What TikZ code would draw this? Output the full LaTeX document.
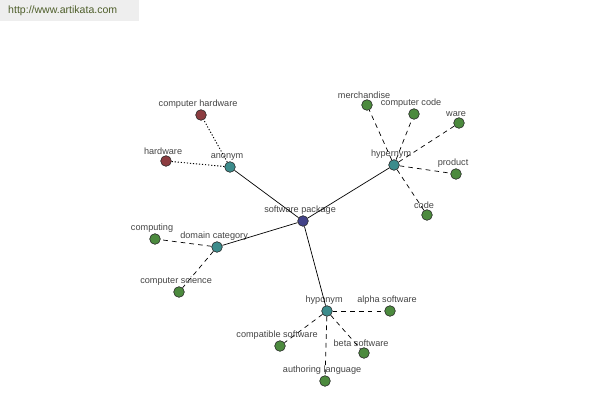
\documentclass[tikz,border=0pt]{standalone}
\usepackage{tikz}
\usepackage{xcolor}
\usepackage{fontspec}
\setmainfont{Liberation Sans}

\begin{document}
\begin{tikzpicture}[x=0.03cm,y=-0.03cm,
  wnode/.style={circle,draw=black!85,line width=0.5pt,minimum size=0.32cm,inner sep=0pt},
  wlabel/.style={font=\fontsize{7.8}{8}\selectfont,text=labelgray,inner sep=0pt,xshift=-2.5pt},
  dashline/.style={dash pattern=on 4pt off 3.5pt,line width=0.6pt},
  dotline/.style={dash pattern=on 1pt off 1.6pt,line width=0.8pt},
  solidline/.style={line width=0.6pt}]
\definecolor{navy}{HTML}{424288}
\definecolor{teal}{HTML}{3C8C8C}
\definecolor{leaf}{HTML}{4C8A3E}
\definecolor{wine}{HTML}{8C3C40}
\definecolor{labelgray}{HTML}{444444}
\definecolor{headgray}{HTML}{EEEEEE}
\definecolor{headgreen}{HTML}{4E5E2A}
\useasboundingbox (0,0) rectangle (600,400);
\fill[headgray] (0,0) rectangle (139,21);
\node[text=headgreen,font=\fontsize{9}{10}\selectfont,anchor=west,inner sep=0pt] (site) at (8,11) {http://www.artikata.com};
  \foreach \nm/\crlr/\x/\y/\txt in {sp/navy/303/221/software package,
    ant/teal/230/167/anonym,chw/wine/201/115/computer hardware,hw/wine/166/161/hardware,
    hyper/teal/394/165/hypernym,merch/leaf/367/105/merchandise,ccode/leaf/414/114/computer code,
    ware/leaf/459/123/ware,prod/leaf/456/174/product,code/leaf/427/215/code,
    dom/teal/217/247/domain category,comp/leaf/155/239/computing,csci/leaf/179/292/computer science,
    hypo/teal/327/311/hyponym,alpha/leaf/390/311/alpha software,compat/leaf/280/346/compatible software,
    beta/leaf/364/353/beta software,auth/leaf/325/381/authoring language}
  {  \node [wnode,fill=\crlr,label={[wlabel,label distance=0.8pt]above:\txt}] (\nm) at (\x,\y) {};}
% links
  \foreach \a/\b in {sp/ant,sp/hyper,sp/dom,sp/hypo}
  {  \draw[solidline] (\a) -- (\b);}
  \foreach \b in {chw,hw}
  {  \draw[dotline] (ant) -- (\b);}
  \foreach \b in {merch,ccode,ware,prod,code}
  {  \draw[dashline] (hyper) -- (\b);}
  \foreach \b in {comp,csci}
  {  \draw[dashline] (dom) -- (\b);}
  \foreach \b in {alpha,compat,beta,auth}
  {  \draw[dashline] (hypo) -- (\b);}
\end{tikzpicture}
\end{document}
